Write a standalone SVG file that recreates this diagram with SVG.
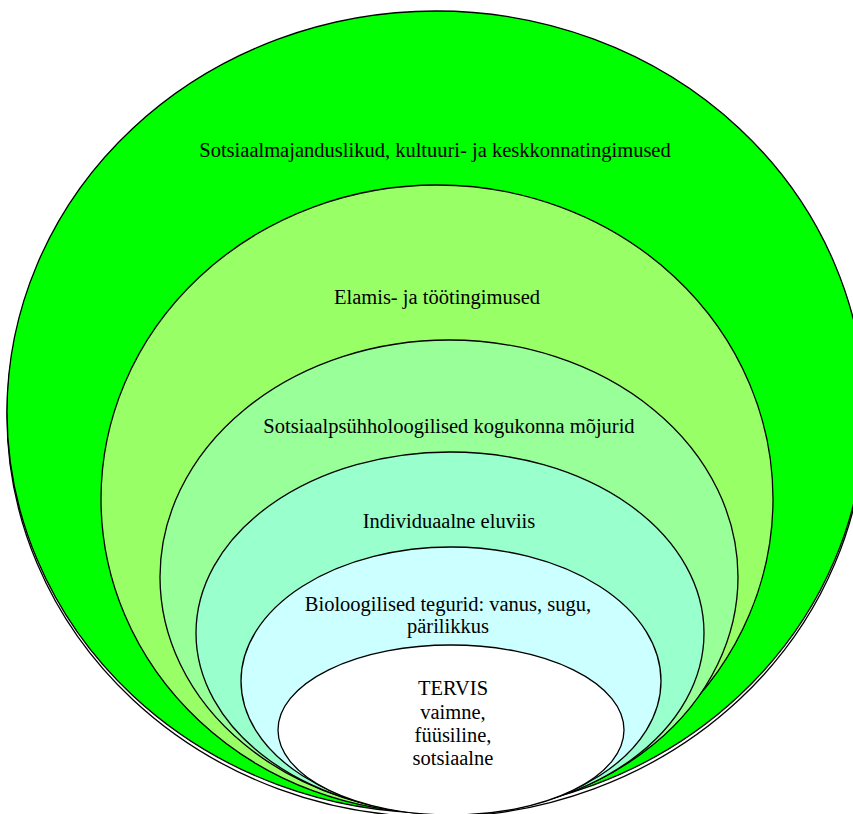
<svg xmlns="http://www.w3.org/2000/svg" width="853" height="814" viewBox="0 0 853 814">
<style>
.e{stroke:#000;stroke-width:1.3}
.t{font-family:"Liberation Serif","Times New Roman",serif;font-size:20.5px;fill:#000;text-anchor:middle}
</style>
<rect x="0" y="0" width="853" height="814" fill="#fff"/>
<g id="outer">
<ellipse cx="436" cy="416" rx="429" ry="401" fill="none" class="e"/>
<ellipse cx="436" cy="412" rx="429" ry="401" fill="#00ff00" class="e"/>
<text class="t" x="435" y="157">Sotsiaalmajanduslikud, kultuuri- ja keskkonnatingimused</text>
</g>
<g id="elamis">
<ellipse cx="437" cy="499" rx="336" ry="314" fill="#99ff66" class="e"/>
<text class="t" x="437" y="304">Elamis- ja töötingimused</text>
</g>
<g id="sotsiaalpsyh">
<ellipse cx="449" cy="577" rx="289" ry="237" fill="#99ff99" class="e"/>
<text class="t" x="449" y="433">Sotsiaalpsühholoogilised kogukonna mõjurid</text>
</g>
<g id="individuaalne">
<ellipse cx="450" cy="633" rx="254" ry="181" fill="#99ffcc" class="e"/>
<text class="t" x="449" y="528">Individuaalne eluviis</text>
</g>
<g id="bioloogilised">
<ellipse cx="451" cy="681" rx="210" ry="134" fill="#ccffff" class="e"/>
<text class="t" x="448" y="611">Bioloogilised tegurid: vanus, sugu,</text>
<text class="t" x="448" y="633">pärilikkus</text>
</g>
<g id="tervis">
<ellipse cx="451" cy="730" rx="173" ry="85" fill="#ffffff" class="e"/>
<text class="t" x="453" y="695">TERVIS</text>
<text class="t" x="453" y="719">vaimne,</text>
<text class="t" x="453" y="742">füüsiline,</text>
<text class="t" x="453" y="765">sotsiaalne</text>
</g>
<g id="connectors"/>
</svg>
